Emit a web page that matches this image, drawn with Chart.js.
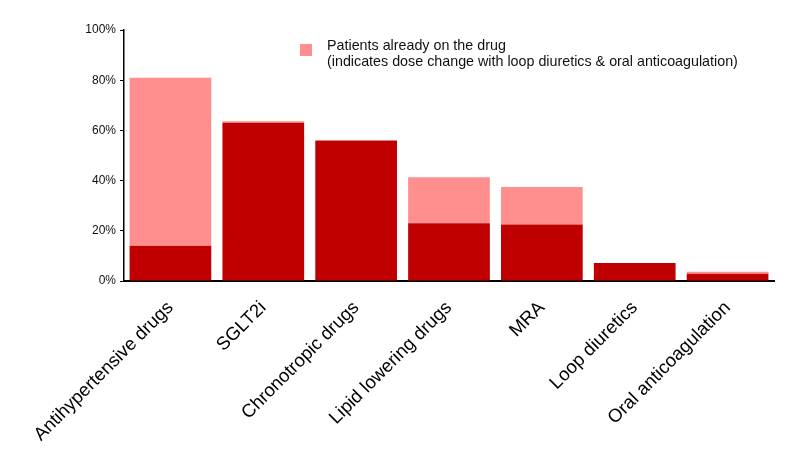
<!DOCTYPE html>
<html>
<head>
<meta charset="utf-8">
<script src="https://cdn.jsdelivr.net/npm/chart.js@4.4.1/dist/chart.umd.min.js"></script>
<style>
  html, body { margin: 0; padding: 0; background: #fff; }
  #wrap { width: 800px; height: 450px; }
</style>
</head>
<body>
<div id="wrap"><canvas id="grafico"></canvas></div>
<script>
const categorias = ['Antihypertensive drugs', 'SGLT2i', 'Chronotropic drugs', 'Lipid lowering drugs', 'MRA', 'Loop diuretics', 'Oral anticoagulation'];
// parte oscura (abajo) y parte rosa (pacientes que ya tomaban el fármaco)
const nuevos = [14, 63, 56, 23, 22.5, 7.2, 2.9];
const yaConFarmaco = [67, 0.6, 0, 18.3, 15, 0, 0.8];
const ticksY = [0, 20, 40, 60, 80, 100];
const textoLeyenda = ['Patients already on the drug', '(indicates dose change with loop diuretics & oral anticoagulation)'];

const rojoOscuro = '#C00000';
const rosa = '#FF8F8F';

// leyenda dibujada a mano porque tiene dos líneas
const leyendaPlugin = {
  id: 'leyendaDosLineas',
  afterDraw: (chart) => {
    const { ctx } = chart;
    ctx.save();
    ctx.fillStyle = rosa;
    ctx.fillRect(300, 44, 12, 12);
    ctx.fillStyle = '#111';
    ctx.font = '14.3px "Liberation Sans", Arial, sans-serif';
    ctx.textBaseline = 'middle';
    ctx.fillText(textoLeyenda[0], 327, 46);
    ctx.fillText(textoLeyenda[1], 327, 62);
    ctx.restore();
  }
};

new Chart(document.getElementById('grafico'), {
  type: 'bar',
  data: {
    labels: categorias,
    datasets: [
      {
        label: 'Newly started',
        data: nuevos,
        backgroundColor: rojoOscuro,
        categoryPercentage: 0.88,
        barPercentage: 1
      },
      {
        label: textoLeyenda[0],
        data: yaConFarmaco,
        backgroundColor: rosa,
        categoryPercentage: 0.88,
        barPercentage: 1
      }
    ]
  },
  options: {
    responsive: true,
    maintainAspectRatio: false,
    animation: false,
    layout: { padding: { top: 30, right: 26, left: 0, bottom: 0 } },
    plugins: {
      legend: { display: false },
      tooltip: { enabled: false }
    },
    scales: {
      x: {
        stacked: true,
        grid: { display: false },
        border: { display: true, color: '#000', width: 2 },
        ticks: {
          autoSkip: false,
          minRotation: 45,
          maxRotation: 45,
          padding: 8,
          color: '#000',
          font: { family: '"Liberation Sans", Arial, sans-serif', size: 18.5 }
        },
        afterFit: (escala) => { escala.height = 169; }
      },
      y: {
        stacked: true,
        min: 0,
        max: 100,
        afterBuildTicks: (escala) => { escala.ticks = ticksY.map(v => ({ value: v })); },
        grid: { drawOnChartArea: false, drawTicks: true, tickLength: 4, color: '#000' },
        border: { display: true, color: '#000', width: 1.5 },
        ticks: {
          color: '#111',
          padding: 4,
          font: { family: '"Liberation Sans", Arial, sans-serif', size: 12 },
          callback: (v) => v + '%'
        },
        afterFit: (escala) => { escala.width = 124; }
      }
    }
  },
  plugins: [leyendaPlugin]
});
</script>
</body>
</html>
